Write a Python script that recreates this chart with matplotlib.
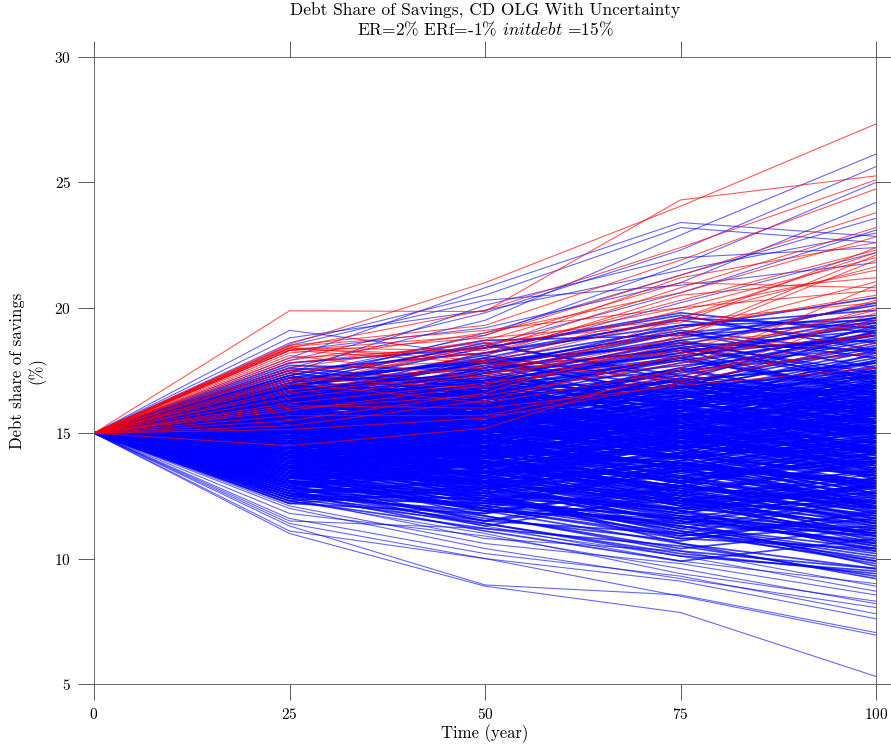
import numpy as np
import matplotlib
matplotlib.use("Agg")
import matplotlib.pyplot as plt

# time grid and common starting debt share (%)
years = [0, 25, 50, 75, 100]
init_debt = 15.0

# simulated paths, values at t = 25, 50, 75, 100
red_paths = [
    [18.55, 21.0, 24.05, 27.33], [19.88, 19.85, 24.3, 25.26], [18.4, 19.9, 22.4, 25.1],
    [18.5, 19.3, 21.9, 24.74], [18.3, 18.9, 21.3, 23.79], [18.4, 18.3, 20.8, 23.2],
    [17.9, 19.0, 20.6, 22.83], [18.0, 18.4, 21.2, 22.6], [17.4, 18.2, 20.3, 22.3],
    [18.3, 17.8, 19.6, 21.64], [17.1, 17.6, 19.0, 21.04], [16.9, 18.5, 20.0, 20.7],
    [16.6, 17.4, 18.3, 20.3], [18.4, 17.9, 17.08, 19.8], [16.2, 17.0, 18.0, 20.0],
    [16.0, 16.5, 17.8, 19.5], [15.7, 15.7, 17.3, 19.0], [15.5, 16.6, 18.9, 22.1],
    [15.15, 15.6, 17.0, 18.6], [14.5, 15.2, 17.6, 20.9], [17.8, 18.6, 19.4, 22.4],
    [18.1, 17.2, 18.8, 21.9], [17.5, 17.9, 19.9, 21.5], [16.4, 17.3, 19.2, 20.5],
    [18.2, 18.8, 19.5, 20.2], [17.2, 16.8, 18.6, 19.3], [16.7, 17.7, 18.2, 18.9],
    [18.45, 19.1, 20.0, 22.0], [17.0, 16.2, 17.5, 18.2], [15.9, 16.9, 19.6, 22.2],
    [18.35, 18.1, 20.5, 21.2], [16.1, 16.0, 16.9, 17.6], [17.6, 18.7, 21.0, 20.8],
    [15.3, 16.3, 18.1, 19.9],
]

blue_upper = [
    [19.1, 18.1, 20.2, 22.2], [18.8, 19.9, 21.5, 22.98], [18.0, 20.8, 23.4, 22.85],
    [18.6, 20.5, 23.2, 22.6], [17.6, 19.5, 22.9, 26.13], [17.9, 19.8, 22.3, 25.63],
    [17.3, 18.9, 21.7, 25.0], [18.3, 19.2, 21.0, 24.2], [17.0, 19.0, 21.3, 23.57],
    [16.8, 18.5, 20.6, 23.1], [18.5, 20.3, 20.9, 21.8], [17.4, 20.1, 22.0, 22.4],
]

blue_lower = [
    [11.0, 8.9, 7.85, 5.3], [11.3, 8.95, 8.55, 7.05], [11.1, 10.0, 8.5, 6.95],
    [11.4, 10.0, 9.1, 7.6], [11.6, 10.2, 9.3, 7.8], [12.0, 10.4, 9.2, 8.05],
    [11.8, 10.9, 9.6, 8.2], [12.3, 11.0, 9.4, 8.3], [12.1, 10.6, 9.8, 8.55],
    [11.5, 11.2, 10.1, 8.7], [12.4, 10.8, 10.3, 8.9], [12.6, 11.3, 9.9, 9.0],
]

blue_core_a = [
    [15.2, 16.4, 15.1, 16.8], [14.1, 13.0, 14.6, 13.2], [16.3, 17.9, 16.8, 18.1], [13.6, 12.1, 11.4, 12.9],
    [15.8, 14.7, 16.2, 17.5], [14.7, 15.9, 17.3, 16.0], [12.9, 13.8, 12.5, 11.1], [16.9, 16.1, 17.6, 19.2],
    [15.0, 13.6, 12.2, 13.5], [14.4, 15.3, 14.1, 15.6], [13.2, 14.5, 15.8, 14.3], [16.0, 17.2, 18.6, 17.4],
    [15.5, 14.2, 15.4, 13.8], [14.9, 16.6, 15.2, 16.9], [13.8, 12.6, 13.9, 12.4], [16.6, 15.4, 14.0, 15.3],
    [12.6, 11.8, 13.1, 14.4], [15.3, 16.9, 18.2, 19.6], [14.2, 13.1, 11.7, 10.4], [17.1, 17.9, 16.5, 17.9],
    [15.6, 15.0, 16.5, 15.1], [13.4, 14.9, 13.6, 12.2], [16.4, 15.2, 16.9, 18.4], [14.6, 13.3, 14.7, 16.1],
    [15.9, 17.4, 16.0, 14.6], [13.0, 12.0, 10.9, 11.8], [14.0, 15.2, 16.4, 17.8], [16.8, 18.1, 17.0, 15.7],
    [15.1, 14.4, 13.0, 14.2], [12.8, 13.6, 14.9, 13.5], [15.7, 16.8, 15.6, 17.1], [14.3, 12.9, 13.8, 12.5],
    [16.2, 14.9, 13.6, 12.3], [13.5, 14.1, 15.5, 16.9], [15.4, 16.0, 14.7, 13.4], [17.4, 16.5, 15.3, 16.6],
    [14.8, 13.9, 15.3, 14.0], [13.1, 11.9, 12.8, 11.4], [16.1, 17.6, 19.0, 18.0], [14.5, 15.6, 14.4, 15.9],
    [15.0, 16.2, 17.5, 16.3], [13.9, 13.0, 11.6, 12.7], [16.5, 15.8, 17.2, 15.9], [12.4, 13.3, 12.0, 13.2],
    [15.6, 14.3, 15.7, 17.0], [14.1, 15.5, 14.2, 12.8], [17.2, 18.5, 17.3, 18.7], [15.3, 14.1, 12.7, 11.5],
    [13.7, 14.8, 16.1, 14.9], [16.7, 16.0, 14.8, 16.2], [14.4, 12.8, 13.9, 15.2], [15.9, 16.7, 18.0, 19.4],
    [13.3, 12.4, 11.2, 10.1], [16.3, 15.1, 16.3, 14.9], [14.8, 16.1, 15.0, 16.4], [15.2, 13.8, 14.9, 13.6],
    [12.7, 12.2, 13.5, 12.1], [16.0, 16.9, 15.7, 17.3], [14.6, 15.1, 16.6, 18.0], [15.5, 14.9, 13.5, 14.8],
    [13.6, 14.7, 13.3, 11.9], [17.0, 15.9, 17.1, 15.8], [14.2, 13.4, 14.8, 16.2], [15.8, 17.0, 16.1, 17.5],
    [13.0, 13.9, 12.6, 13.8], [16.6, 17.5, 18.8, 20.1], [14.9, 13.5, 12.1, 12.9], [15.1, 15.8, 17.1, 15.9],
    [12.5, 11.5, 12.4, 11.0], [16.4, 16.8, 15.5, 14.2], [14.7, 14.0, 15.5, 16.7], [15.4, 16.7, 15.3, 13.9],
    [13.8, 12.9, 14.1, 15.4], [16.9, 17.7, 19.1, 18.2], [14.0, 14.8, 13.4, 14.7], [15.7, 14.6, 16.0, 17.4],
    [13.3, 14.6, 16.0, 15.0], [16.2, 15.4, 14.1, 12.8], [14.5, 13.2, 11.9, 13.0], [15.0, 16.4, 15.2, 16.5],
    [13.9, 15.0, 14.0, 12.6], [17.5, 16.8, 18.0, 16.6], [15.3, 15.9, 14.5, 15.8], [12.3, 12.9, 11.5, 10.6],
    [16.1, 14.8, 16.1, 17.6], [14.3, 15.7, 17.0, 15.7], [15.6, 16.3, 15.0, 13.7], [13.5, 12.3, 13.6, 14.9],
    [16.8, 16.2, 17.4, 18.8], [14.8, 13.7, 12.4, 11.2], [15.2, 15.1, 16.3, 15.0], [13.1, 14.0, 12.7, 13.9],
    [16.5, 17.8, 16.6, 15.4], [14.1, 13.6, 14.9, 13.5], [15.9, 15.3, 13.9, 15.1], [12.8, 11.6, 10.7, 11.9],
    [16.3, 16.6, 17.9, 16.8], [14.6, 15.9, 14.6, 16.0], [15.4, 14.5, 15.8, 14.4], [13.7, 13.1, 11.8, 12.9],
]

blue_core_b = [
    [15.1, 13.2, 14.5, 12.0], [14.4, 16.3, 17.8, 19.0], [16.0, 14.1, 12.6, 11.3], [13.2, 15.1, 16.7, 18.3],
    [15.7, 17.3, 15.6, 13.1], [14.9, 12.9, 11.2, 12.5], [16.7, 15.0, 16.8, 19.1], [13.6, 11.9, 10.6, 9.6],
    [15.3, 17.1, 18.7, 17.2], [14.2, 16.0, 14.3, 12.7], [12.9, 11.3, 12.6, 10.9], [16.4, 18.2, 19.5, 18.6],
    [15.5, 13.7, 15.2, 17.4], [13.4, 12.0, 13.7, 15.3], [17.3, 15.7, 14.4, 13.0], [14.6, 16.5, 18.1, 16.6],
    [15.8, 13.9, 12.4, 10.7], [13.0, 14.4, 12.8, 14.6], [16.2, 17.9, 19.2, 20.4], [14.0, 12.4, 10.9, 11.6],
    [15.0, 17.0, 15.4, 17.0], [12.6, 11.1, 9.9, 10.8], [16.6, 14.7, 16.4, 14.6], [14.7, 16.4, 14.9, 13.2],
    [15.9, 14.0, 15.6, 13.7], [13.3, 14.9, 13.0, 11.4], [17.0, 18.6, 17.1, 19.3], [14.3, 12.5, 11.1, 9.8],
    [15.6, 17.4, 19.0, 17.6], [13.8, 15.6, 16.9, 15.1], [16.1, 14.2, 13.0, 14.8], [12.4, 11.4, 10.2, 9.4],
    [15.2, 16.9, 18.3, 16.5], [14.5, 12.7, 14.2, 16.0], [16.9, 15.3, 16.9, 15.2], [13.5, 15.2, 13.5, 15.2],
    [15.4, 13.5, 11.9, 10.3], [14.1, 15.8, 17.5, 18.9], [16.3, 18.0, 16.3, 14.8], [13.9, 12.2, 13.8, 12.2],
    [15.0, 13.1, 14.8, 16.5], [12.7, 14.3, 15.8, 14.1], [16.5, 14.8, 13.2, 11.8], [14.8, 16.7, 15.0, 16.8],
    [13.1, 11.5, 12.9, 14.2], [15.7, 17.5, 16.0, 18.2], [14.4, 12.6, 11.0, 12.4], [16.8, 18.4, 19.7, 18.3],
    [13.7, 15.4, 13.8, 12.0], [15.3, 13.4, 15.0, 13.3], [14.0, 15.7, 17.2, 15.4], [17.2, 15.6, 17.0, 18.5],
    [12.5, 13.9, 12.3, 10.6], [15.8, 14.1, 12.5, 13.9], [14.6, 16.2, 14.6, 16.3], [16.0, 17.7, 16.1, 14.3],
    [13.4, 11.7, 10.4, 11.2], [15.5, 15.4, 17.0, 18.6], [14.2, 14.3, 12.6, 13.9], [16.6, 16.5, 14.9, 16.4],
    [13.0, 12.1, 13.5, 12.0], [15.1, 16.8, 18.4, 17.0], [14.7, 13.0, 14.4, 12.9], [16.2, 14.6, 16.2, 17.9],
    [12.9, 14.5, 13.0, 14.5], [15.9, 17.6, 19.3, 19.9], [14.3, 12.3, 11.3, 9.9], [17.1, 16.4, 18.0, 16.5],
    [13.6, 14.0, 15.6, 17.1], [15.4, 13.9, 12.3, 13.6], [14.9, 15.5, 14.0, 15.5], [16.4, 16.1, 17.6, 16.1],
    [12.2, 12.8, 11.8, 13.0], [15.6, 14.4, 15.9, 14.3], [14.1, 13.8, 12.2, 10.9], [16.7, 17.3, 16.2, 17.7],
    [13.2, 13.2, 14.6, 13.3], [15.2, 14.6, 13.1, 11.6], [14.5, 16.1, 15.7, 17.2], [16.1, 15.6, 14.2, 15.7],
    [13.9, 14.2, 15.7, 14.2], [15.0, 14.3, 15.9, 17.3], [14.8, 15.0, 13.6, 12.1], [17.6, 17.0, 18.5, 17.1],
    [13.5, 13.0, 11.4, 12.6], [15.7, 15.5, 16.9, 15.5], [14.4, 14.7, 13.2, 14.6], [16.3, 16.0, 17.5, 19.0],
    [12.8, 12.5, 11.3, 10.2], [15.3, 15.7, 14.3, 15.8], [14.6, 14.1, 15.6, 17.0], [16.0, 16.3, 15.0, 13.5],
    [13.3, 13.5, 12.1, 13.4], [15.8, 15.2, 16.7, 15.3], [14.2, 14.6, 13.3, 11.8], [16.5, 17.0, 18.4, 17.2],
    [13.7, 13.3, 14.8, 16.3], [15.1, 15.4, 14.0, 12.6], [14.0, 13.7, 15.1, 13.6], [16.9, 16.6, 15.2, 16.7],
]

blue_core_c = [
    [15.0, 15.6, 16.0, 14.7], [14.3, 13.8, 13.3, 14.0], [15.8, 16.5, 16.1, 16.9], [13.9, 14.4, 14.9, 15.6],
    [16.2, 15.7, 15.1, 14.4], [14.7, 14.2, 13.6, 13.0], [15.5, 16.1, 16.8, 17.6], [13.4, 13.9, 13.2, 12.5],
    [16.7, 17.2, 16.6, 15.9], [14.1, 14.7, 15.4, 16.2], [15.3, 14.8, 14.1, 13.3], [12.9, 13.4, 14.2, 15.0],
    [16.4, 16.9, 17.7, 18.4], [14.6, 14.1, 14.6, 15.3], [15.2, 15.9, 15.3, 14.6], [13.6, 13.1, 12.4, 11.6],
    [16.0, 16.6, 17.3, 16.5], [14.9, 15.4, 14.8, 14.1], [13.1, 12.7, 12.0, 12.8], [15.7, 15.2, 16.0, 16.8],
    [14.4, 15.0, 15.7, 15.0], [16.5, 16.0, 15.4, 16.1], [13.8, 14.3, 13.7, 13.0], [15.4, 14.9, 15.6, 16.4],
    [14.0, 13.6, 12.9, 12.2], [16.8, 17.4, 18.1, 18.9], [12.6, 13.1, 13.8, 13.1], [15.1, 15.7, 15.0, 15.8],
    [14.5, 14.0, 14.7, 13.9], [15.9, 16.4, 17.1, 17.8], [13.5, 13.0, 13.6, 14.3], [16.3, 15.8, 16.5, 15.7],
    [14.8, 15.3, 16.0, 16.7], [15.6, 15.1, 14.4, 15.1], [13.2, 13.7, 12.9, 12.0], [16.1, 16.7, 16.0, 16.8],
    [14.2, 13.7, 14.4, 15.2], [15.0, 14.5, 13.8, 13.0], [13.7, 14.3, 15.0, 14.2], [16.6, 16.1, 16.8, 17.5],
    [14.9, 14.4, 13.8, 14.6], [15.3, 15.8, 16.5, 15.8], [12.8, 12.3, 11.6, 11.1], [16.2, 16.8, 16.2, 15.5],
    [14.1, 14.6, 15.3, 16.0], [15.5, 15.0, 15.7, 15.0], [13.9, 13.4, 12.7, 13.5], [16.9, 16.4, 17.1, 16.4],
    [14.6, 15.2, 14.5, 13.7], [15.2, 14.7, 15.5, 16.3],
    [12.3, 11.2, 10.5, 9.3], [12.6, 11.7, 10.3, 9.6], [12.9, 11.5, 11.0, 9.9], [13.1, 12.0, 10.8, 10.4],
    [12.5, 12.4, 11.1, 10.0], [13.3, 11.9, 11.6, 10.5], [12.7, 11.4, 10.1, 9.5], [13.0, 12.6, 10.6, 9.2],
    [12.4, 12.2, 11.7, 11.0], [13.6, 12.7, 11.5, 9.7], [17.5, 18.2, 19.3, 19.5], [17.3, 18.7, 18.9, 19.4],
    [16.9, 18.0, 19.6, 19.2], [17.7, 17.5, 18.7, 19.6], [17.0, 17.9, 18.5, 20.2], [17.8, 18.4, 19.8, 19.0],
    [16.6, 17.8, 19.0, 19.7], [17.2, 17.1, 18.2, 19.3], [12.2, 11.8, 12.9, 11.7], [13.4, 12.5, 10.8, 11.3],
]

blue_core_d = [
    [14.8, 15.3, 14.6, 15.4], [15.3, 14.6, 15.2, 14.5], [14.2, 14.9, 15.6, 14.9], [15.7, 16.2, 15.5, 16.2],
    [13.9, 13.3, 14.0, 14.7], [16.1, 15.5, 16.2, 15.4], [14.5, 15.1, 14.3, 13.6], [15.0, 14.4, 13.7, 14.5],
    [13.6, 14.2, 14.9, 15.7], [16.4, 17.0, 16.3, 17.0], [14.0, 14.5, 13.8, 13.1], [15.5, 16.0, 16.7, 16.0],
    [13.3, 13.8, 13.1, 13.9], [15.9, 15.4, 14.7, 15.5], [14.7, 14.2, 14.9, 15.6], [15.2, 15.8, 16.5, 17.2],
    [13.8, 13.2, 12.5, 13.2], [16.2, 16.7, 16.0, 15.2], [14.4, 14.9, 15.6, 14.8], [15.6, 15.0, 15.7, 16.5],
    [13.5, 14.0, 14.7, 14.0], [16.0, 15.4, 16.1, 16.9], [14.9, 15.5, 14.8, 14.0], [15.1, 14.5, 13.8, 13.0],
    [14.3, 13.7, 14.4, 15.1], [15.8, 16.4, 17.1, 16.3], [13.0, 13.5, 12.8, 12.1], [16.6, 16.0, 16.7, 17.4],
    [14.6, 15.2, 15.9, 16.6], [15.4, 14.8, 14.1, 13.3], [14.1, 14.7, 14.0, 14.8], [15.7, 15.1, 15.8, 15.1],
    [13.7, 13.1, 13.8, 12.9], [16.3, 16.9, 16.2, 16.9], [14.8, 14.3, 15.0, 15.8], [15.0, 15.6, 14.9, 14.2],
    [13.4, 12.8, 13.5, 14.2], [16.5, 15.9, 15.2, 14.4], [14.2, 13.6, 12.9, 12.1], [15.3, 15.9, 16.6, 17.3],
    [14.5, 14.0, 14.7, 14.0], [15.9, 16.5, 15.8, 15.0], [13.9, 14.5, 15.2, 16.0], [16.1, 15.6, 14.9, 15.7],
    [14.7, 15.3, 14.6, 13.8], [15.5, 14.9, 15.6, 16.3], [13.2, 13.8, 13.1, 12.4], [16.8, 16.2, 16.9, 16.2],
    [14.0, 13.4, 14.1, 14.9], [15.2, 15.7, 15.0, 15.8], [14.4, 13.9, 13.2, 13.9], [15.6, 16.2, 16.9, 16.1],
    [13.6, 13.0, 12.3, 11.8], [16.2, 16.8, 17.5, 18.2], [14.9, 14.4, 15.1, 14.3], [15.1, 15.7, 15.0, 14.3],
    [14.3, 14.8, 15.5, 16.3], [15.8, 15.2, 14.5, 13.8], [13.8, 14.4, 13.7, 12.9], [16.4, 15.8, 16.5, 17.3],
    [14.6, 14.1, 14.8, 15.5], [15.4, 16.0, 15.3, 16.0], [13.1, 12.6, 13.3, 14.0], [16.0, 16.6, 15.9, 15.1],
    [14.8, 14.2, 13.5, 12.8], [15.0, 15.5, 16.2, 16.9], [14.2, 14.8, 14.1, 13.4], [15.7, 15.2, 15.9, 15.2],
    [13.5, 12.9, 12.2, 12.9], [16.6, 17.1, 16.4, 17.1], [14.5, 15.0, 15.7, 15.0], [15.3, 14.7, 14.0, 14.7],
    [14.0, 13.5, 14.2, 13.5], [15.9, 16.4, 17.1, 17.8], [14.7, 14.1, 13.4, 12.6], [15.2, 15.8, 15.1, 15.9],
    [13.7, 14.3, 15.0, 14.3], [16.2, 15.7, 15.0, 15.7], [14.4, 13.8, 14.5, 15.3], [15.6, 16.1, 15.4, 14.6],
]

blue_core_e = [
    [13.0, 12.3, 11.6, 10.9], [13.5, 12.6, 12.0, 11.4], [12.8, 12.0, 11.3, 10.4], [14.0, 13.0, 12.2, 11.5],
    [13.2, 12.8, 11.9, 11.0], [12.6, 12.1, 11.0, 10.3], [13.8, 12.9, 12.6, 11.9], [14.3, 13.2, 12.3, 11.7],
    [12.9, 12.5, 12.2, 11.3], [13.6, 13.4, 12.5, 12.0], [14.1, 12.7, 11.8, 10.8], [13.3, 12.2, 11.4, 10.7],
    [12.7, 12.6, 11.6, 10.6], [14.4, 13.6, 12.7, 11.4], [13.9, 13.1, 11.9, 10.5], [13.1, 12.4, 12.0, 12.3],
    [14.6, 13.9, 12.8, 12.3], [13.7, 12.8, 11.7, 11.2], [12.5, 11.9, 11.5, 10.9], [14.2, 13.3, 12.4, 12.6],
    [15.0, 13.8, 12.9, 12.0], [14.7, 13.5, 12.1, 11.0], [13.4, 13.0, 12.3, 13.1], [15.2, 14.0, 13.1, 12.2],
    [14.9, 14.2, 13.0, 11.6], [16.4, 17.4, 18.4, 19.1], [16.9, 17.6, 18.3, 18.7], [16.1, 17.1, 18.0, 19.5],
    [17.2, 17.8, 18.6, 18.3], [16.7, 17.0, 17.9, 18.9],
]

plt.rcParams['font.family'] = 'serif'
plt.rcParams['font.serif'] = ['cmr10']
plt.rcParams['mathtext.fontset'] = 'cm'
plt.rcParams['axes.formatter.use_mathtext'] = True
plt.rcParams['font.size'] = 11

fig = plt.figure(figsize=(8.91, 7.49), dpi=100)
ax = fig.add_axes([0.1055, 0.0868, 0.8777, 0.8371])

# outlying paths: thin; central paths: a bit heavier so the core fills in
for p in blue_upper + blue_lower:
    ax.plot(years, [init_debt] + p, color='blue', lw=0.8, alpha=0.6)
for p in blue_core_a + blue_core_b + blue_core_c + blue_core_d + blue_core_e:
    ax.plot(years, [init_debt] + p, color='blue', lw=1.25, alpha=0.75)
for p in red_paths:
    ax.plot(years, [init_debt] + p, color='red', lw=0.8, alpha=0.65)

ax.set_xlim(0, 100)
ax.set_ylim(5, 30)
ax.set_xticks([0, 25, 50, 75, 100])
ax.set_yticks([5, 10, 15, 20, 25, 30])
ax.tick_params(direction='out', length=11.5, width=0.6, color='#404040',
               top=True, right=True, labelsize=11, pad=5)
for s in ax.spines.values():
    s.set_color('#555555')
    s.set_linewidth(0.6)

ax.set_xlabel('Time (year)', fontsize=12, labelpad=2)
ax.set_ylabel('Debt share of savings\n(%)', fontsize=12, labelpad=6)
ax.set_title('Debt Share of Savings, CD OLG With Uncertainty\n'
             'ER=2% ERf=-1% $initdebt$ =15%', fontsize=12.5, pad=16,
             linespacing=1.0)

fig.savefig('out.png', dpi=100)
